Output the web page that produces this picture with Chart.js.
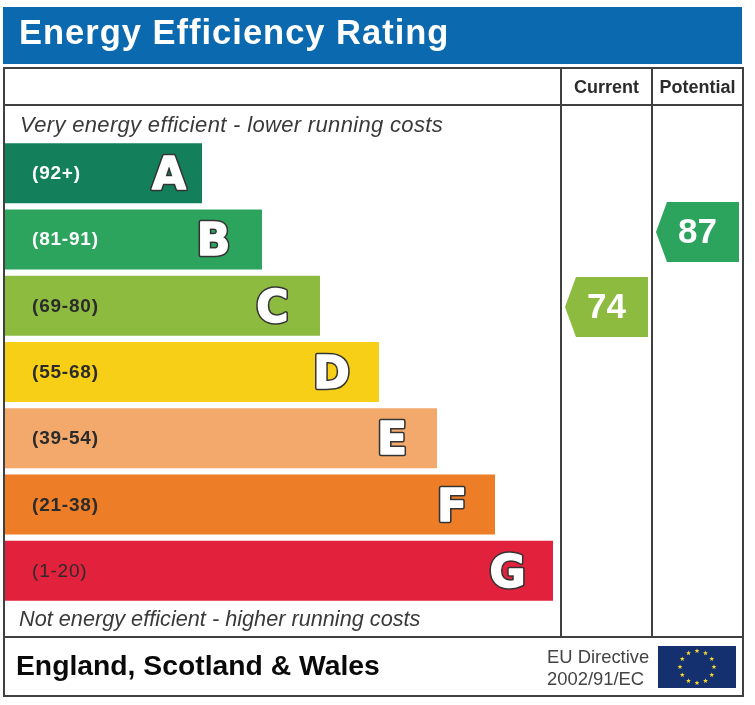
<!DOCTYPE html>
<html>
<head>
<meta charset="utf-8">
<style>
  html, body { margin: 0; padding: 0; background: #fff; }
  #wrap { position: relative; width: 755px; height: 705px; }
  #wrap canvas { position: absolute; left: 0; top: 0; }
</style>
<script src="https://cdn.jsdelivr.net/npm/chart.js@4"></script>
</head>
<body>
<div id="wrap">
  <canvas id="bandChart" width="755" height="705"></canvas>
  <canvas id="ratingChart" width="755" height="705"></canvas>
</div>
<script>
const bandLetters = ['A', 'B', 'C', 'D', 'E', 'F', 'G'];
const bandRanges = ['(92+)', '(81-91)', '(69-80)', '(55-68)', '(39-54)', '(21-38)', '(1-20)'];
const bandLengths = [197, 257, 315, 374, 432, 490, 548];
const bandColors = ['#137f5b', '#2ca45e', '#8dbb3f', '#f6cf16', '#f3a96b', '#ed7d26', '#e2213c'];
const rangeColors = ['#fff', '#fff', '#2b2b2b', '#2b2b2b', '#2b2b2b', '#2b2b2b', '#2b2b2b'];
const columnNames = ['Current', 'Potential'];
const ratingValues = [74, 87];
const ratingColors = ['#8dbb3f', '#2ca45e'];

const titleText = 'Energy Efficiency Rating';
const topNote = 'Very energy efficient - lower running costs';
const bottomNote = 'Not energy efficient - higher running costs';
const regionText = 'England, Scotland & Wales';
const directiveLines = ['EU Directive', '2002/91/EC'];

const FONT = '"Liberation Sans", Arial, sans-serif';

// arrow marker for the current / potential ratings
function arrowMarker(color) {
    const c = document.createElement('canvas');
    c.width = 83;
    c.height = 60;
    const g = c.getContext('2d');
    g.fillStyle = color;
    g.beginPath();
    g.moveTo(0, 30);
    g.lineTo(11, 0);
    g.lineTo(83, 0);
    g.lineTo(83, 60);
    g.lineTo(11, 60);
    g.closePath();
    g.fill();
    return c;
}

function drawStar(ctx, x, y, r) {
    ctx.beginPath();
    for (let i = 0; i < 10; i++) {
        const a = -Math.PI / 2 + i * Math.PI / 5;
        const d = i % 2 ? r * 0.42 : r;
        ctx.lineTo(x + Math.cos(a) * d, y + Math.sin(a) * d);
    }
    ctx.closePath();
    ctx.fill();
}

function hline(ctx, x1, x2, y) {
    ctx.beginPath();
    ctx.moveTo(x1, y);
    ctx.lineTo(x2, y);
    ctx.stroke();
}

function vline(ctx, x, y1, y2) {
    ctx.beginPath();
    ctx.moveTo(x, y1);
    ctx.lineTo(x, y2);
    ctx.stroke();
}

const framePlugin = {
    id: 'frame',
    beforeDatasetsDraw(chart) {
        const ctx = chart.ctx;
        ctx.save();
        ctx.fillStyle = '#0b69b0';
        ctx.fillRect(3, 7, 739, 57);
        ctx.fillStyle = '#fff';
        ctx.textBaseline = 'alphabetic';
        ctx.textAlign = 'left';
        ctx.font = 'bold 34.5px ' + FONT;
        ctx.letterSpacing = '1px';
        ctx.fillText(titleText, 19, 44);
        ctx.letterSpacing = '0px';

        ctx.strokeStyle = '#404040';
        ctx.lineWidth = 2;
        ctx.strokeRect(4, 68, 739, 628);
        hline(ctx, 4, 743, 105);
        hline(ctx, 4, 743, 637);
        vline(ctx, 561, 68, 637);
        vline(ctx, 652, 68, 637);

        ctx.fillStyle = '#3a3a3a';
        ctx.font = 'italic 22px ' + FONT;
        ctx.letterSpacing = '0.33px';
        ctx.fillText(topNote, 20, 132);
        ctx.letterSpacing = '0px';
        ctx.font = 'italic 21.7px ' + FONT;
        ctx.fillText(bottomNote, 19, 626);

        ctx.fillStyle = '#0a0a0a';
        ctx.font = 'bold 28.3px ' + FONT;
        ctx.fillText(regionText, 16, 675);

        ctx.fillStyle = '#444';
        ctx.font = '18.4px ' + FONT;
        ctx.fillText(directiveLines[0], 547, 663);
        ctx.fillText(directiveLines[1], 547, 685);

        ctx.fillStyle = '#14306f';
        ctx.fillRect(658, 646, 78, 42);
        ctx.fillStyle = '#f2d82e';
        for (let i = 0; i < 12; i++) {
            const a = i * Math.PI / 6;
            drawStar(ctx, 697 + Math.sin(a) * 17, 667 - Math.cos(a) * 16, 2.6);
        }
        ctx.restore();
    },
    afterDatasetsDraw(chart) {
        const ctx = chart.ctx;
        const insets = [33, 48.5, 47.5, 47.5, 45, 43, 45.5];
        ctx.save();
        ctx.textBaseline = 'alphabetic';

        // band ranges and outlined letters
        chart.getDatasetMeta(0).data.forEach((bar, i) => {
            ctx.textAlign = 'left';
            ctx.fillStyle = rangeColors[i];
            ctx.font = (i === 6 ? '' : 'bold ') + '19px ' + FONT;
            ctx.letterSpacing = '0.8px';
            ctx.fillText(bandRanges[i], 32, bar.y + 6);
            ctx.letterSpacing = '0px';

            const lx = bar.x - insets[i];
            ctx.textAlign = 'center';
            ctx.font = 'bold 44px "DejaVu Sans", ' + FONT;
            ctx.lineJoin = 'round';
            ctx.lineWidth = 4.5;
            ctx.strokeStyle = '#333';
            ctx.strokeText(bandLetters[i], lx, bar.y + 16);
            ctx.lineWidth = 1.4;
            ctx.strokeStyle = '#fff';
            ctx.strokeText(bandLetters[i], lx, bar.y + 16);
            ctx.fillStyle = '#fff';
            ctx.fillText(bandLetters[i], lx, bar.y + 16);
        });
        ctx.restore();
    }
};

// numbers on the arrows
const ratingLabelPlugin = {
    id: 'ratingLabels',
    afterDatasetsDraw(chart) {
        const ctx = chart.ctx;
        ctx.save();
        ctx.textAlign = 'center';
        ctx.textBaseline = 'alphabetic';
        ctx.fillStyle = '#fff';
        ctx.font = 'bold 35px ' + FONT;
        chart.getDatasetMeta(0).data.forEach((pt, i) => {
            ctx.fillText(String(ratingValues[i]), pt.x, pt.y + 11);
        });
        ctx.restore();
    }
};

new Chart(document.getElementById('bandChart'), {
    type: 'bar',
    data: {
        labels: bandLetters,
        datasets: [{
            data: bandLengths,
            backgroundColor: bandColors,
            barPercentage: 0.905,
            categoryPercentage: 1
        }]
    },
    options: {
        indexAxis: 'y',
        responsive: false,
        animation: false,
        layout: { padding: { left: 5, right: 202, top: 140, bottom: 101 } },
        plugins: { legend: { display: false }, tooltip: { enabled: false } },
        scales: {
            x: { display: false, min: 0, max: 548, grid: { display: false } },
            y: { display: false, grid: { display: false } }
        }
    },
    plugins: [framePlugin]
});

new Chart(document.getElementById('ratingChart'), {
    type: 'scatter',
    data: {
        datasets: [{
            data: ratingValues.map((v, i) => ({ x: columnNames[i], y: v })),
            pointStyle: ratingColors.map(arrowMarker)
        }]
    },
    options: {
        responsive: false,
        animation: false,
        layout: { padding: { left: 561, right: 12, top: 72, bottom: 68 } },
        plugins: { legend: { display: false }, tooltip: { enabled: false } },
        scales: {
            x: {
                type: 'category',
                labels: columnNames,
                position: 'top',
                offset: true,
                grid: { display: false, drawTicks: false },
                border: { display: false },
                afterFit(scale) { scale.height = 33; },
                ticks: {
                    color: '#2b2b2b',
                    padding: 6,
                    maxRotation: 0,
                    autoSkip: false,
                    font: { family: FONT, size: 18, weight: 'bold' }
                }
            },
            y: { type: 'linear', display: false, min: 16.8, max: 109, grid: { display: false } }
        }
    },
    plugins: [ratingLabelPlugin]
});
</script>
</body>
</html>
